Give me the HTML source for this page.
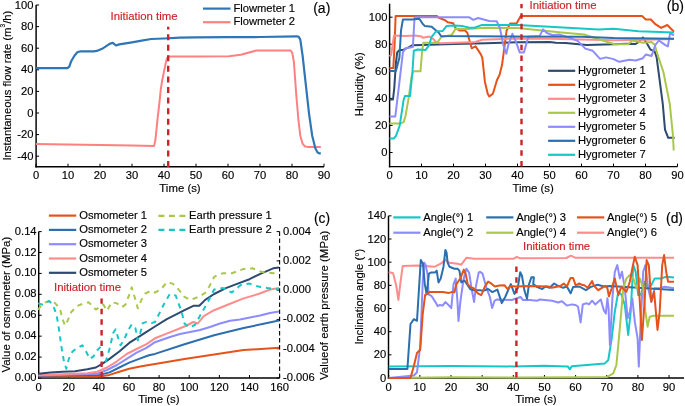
<!DOCTYPE html>
<html><head><meta charset="utf-8"><style>
html,body{margin:0;padding:0;background:#fff;}
svg{display:block;font-family:"Liberation Sans", sans-serif;will-change:transform;}
text{stroke-width:0.15px;}
</style></head><body>
<svg width="685" height="406" viewBox="0 0 685 406">
<line x1="36.10" y1="167.42" x2="36.10" y2="5.00" stroke="#000" stroke-width="1.45" />
<line x1="35.38" y1="166.70" x2="324.00" y2="166.70" stroke="#000" stroke-width="1.45" />
<line x1="36.00" y1="166.70" x2="36.00" y2="163.70" stroke="#000" stroke-width="1.0" />
<text x="36.00" y="179.00" text-anchor="middle" fill="#000" stroke="#000" font-size="11.2" >0</text>
<line x1="68.00" y1="166.70" x2="68.00" y2="163.70" stroke="#000" stroke-width="1.0" />
<text x="68.00" y="179.00" text-anchor="middle" fill="#000" stroke="#000" font-size="11.2" >10</text>
<line x1="100.00" y1="166.70" x2="100.00" y2="163.70" stroke="#000" stroke-width="1.0" />
<text x="100.00" y="179.00" text-anchor="middle" fill="#000" stroke="#000" font-size="11.2" >20</text>
<line x1="132.00" y1="166.70" x2="132.00" y2="163.70" stroke="#000" stroke-width="1.0" />
<text x="132.00" y="179.00" text-anchor="middle" fill="#000" stroke="#000" font-size="11.2" >30</text>
<line x1="164.00" y1="166.70" x2="164.00" y2="163.70" stroke="#000" stroke-width="1.0" />
<text x="164.00" y="179.00" text-anchor="middle" fill="#000" stroke="#000" font-size="11.2" >40</text>
<line x1="196.00" y1="166.70" x2="196.00" y2="163.70" stroke="#000" stroke-width="1.0" />
<text x="196.00" y="179.00" text-anchor="middle" fill="#000" stroke="#000" font-size="11.2" >50</text>
<line x1="228.00" y1="166.70" x2="228.00" y2="163.70" stroke="#000" stroke-width="1.0" />
<text x="228.00" y="179.00" text-anchor="middle" fill="#000" stroke="#000" font-size="11.2" >60</text>
<line x1="260.00" y1="166.70" x2="260.00" y2="163.70" stroke="#000" stroke-width="1.0" />
<text x="260.00" y="179.00" text-anchor="middle" fill="#000" stroke="#000" font-size="11.2" >70</text>
<line x1="292.00" y1="166.70" x2="292.00" y2="163.70" stroke="#000" stroke-width="1.0" />
<text x="292.00" y="179.00" text-anchor="middle" fill="#000" stroke="#000" font-size="11.2" >80</text>
<line x1="324.00" y1="166.70" x2="324.00" y2="163.70" stroke="#000" stroke-width="1.0" />
<text x="324.00" y="179.00" text-anchor="middle" fill="#000" stroke="#000" font-size="11.2" >90</text>
<line x1="36.10" y1="156.20" x2="39.10" y2="156.20" stroke="#000" stroke-width="1.0" />
<text x="33.50" y="159.70" text-anchor="end" fill="#000" stroke="#000" font-size="11.2" >-40</text>
<line x1="36.10" y1="134.60" x2="39.10" y2="134.60" stroke="#000" stroke-width="1.0" />
<text x="33.50" y="138.10" text-anchor="end" fill="#000" stroke="#000" font-size="11.2" >-20</text>
<line x1="36.10" y1="113.00" x2="39.10" y2="113.00" stroke="#000" stroke-width="1.0" />
<text x="33.50" y="116.50" text-anchor="end" fill="#000" stroke="#000" font-size="11.2" >0</text>
<line x1="36.10" y1="91.40" x2="39.10" y2="91.40" stroke="#000" stroke-width="1.0" />
<text x="33.50" y="94.90" text-anchor="end" fill="#000" stroke="#000" font-size="11.2" >20</text>
<line x1="36.10" y1="69.80" x2="39.10" y2="69.80" stroke="#000" stroke-width="1.0" />
<text x="33.50" y="73.30" text-anchor="end" fill="#000" stroke="#000" font-size="11.2" >40</text>
<line x1="36.10" y1="48.20" x2="39.10" y2="48.20" stroke="#000" stroke-width="1.0" />
<text x="33.50" y="51.70" text-anchor="end" fill="#000" stroke="#000" font-size="11.2" >60</text>
<line x1="36.10" y1="26.60" x2="39.10" y2="26.60" stroke="#000" stroke-width="1.0" />
<text x="33.50" y="30.10" text-anchor="end" fill="#000" stroke="#000" font-size="11.2" >80</text>
<line x1="36.10" y1="5.00" x2="39.10" y2="5.00" stroke="#000" stroke-width="1.0" />
<text x="33.50" y="8.50" text-anchor="end" fill="#000" stroke="#000" font-size="11.2" >100</text>
<polyline points="36.0,144.1 100.0,144.9 132.0,145.4 154.1,145.9 155.4,140.0 157.6,118.4 159.5,102.2 160.8,89.1 162.4,79.5 164.0,71.4 166.2,61.1 167.2,57.9 168.5,56.6 196.0,56.5 229.0,56.2 240.8,54.7 256.8,50.4 290.7,50.4 292.3,53.1 293.9,62.0 296.2,94.0 298.4,119.7 300.3,135.7 302.6,143.7 304.8,146.3 307.4,146.9 320.8,146.9" fill="none" stroke="#ff8080" stroke-width="2.0" stroke-linejoin="round" stroke-linecap="butt" />
<polyline points="36.0,68.2 67.4,68.2 69.3,66.6 71.2,61.2 74.4,55.8 77.6,52.0 80.8,51.4 93.6,51.4 96.8,50.9 103.2,48.2 109.6,43.9 112.8,42.8 116.0,45.5 119.2,44.4 125.6,43.3 132.0,42.3 141.6,40.6 151.2,39.0 164.0,38.5 180.0,37.7 196.0,37.4 228.0,37.2 260.0,37.0 296.8,36.3 298.7,36.9 300.3,39.6 302.6,55.7 305.8,84.4 309.0,113.3 312.2,135.7 315.4,148.5 317.6,152.5 319.2,153.3 320.8,153.3" fill="none" stroke="#2e76b6" stroke-width="2.2" stroke-linejoin="round" stroke-linecap="butt" />
<line x1="168.2" y1="167" x2="168.2" y2="26.8" stroke="#cc2229" stroke-width="2.4" stroke-dasharray="6 4.57"/>
<text x="110.50" y="19.70" text-anchor="start" fill="#cc2229" stroke="#cc2229" font-size="11.4" >Initiation time</text>
<line x1="203.00" y1="8.60" x2="230.50" y2="8.60" stroke="#2e76b6" stroke-width="2.2" />
<line x1="203.00" y1="22.20" x2="230.50" y2="22.20" stroke="#ff8080" stroke-width="2.2" />
<text x="233.40" y="11.80" text-anchor="start" fill="#000" stroke="#000" font-size="11.2" >Flowmeter 1</text>
<text x="233.40" y="25.40" text-anchor="start" fill="#000" stroke="#000" font-size="11.2" >Flowmeter 2</text>
<text x="313.20" y="12.70" text-anchor="start" fill="#000" stroke="#000" font-size="14" >(a)</text>
<text x="180.00" y="192.20" text-anchor="middle" fill="#000" stroke="#000" font-size="11.4" >Time (s)</text>
<text transform="translate(10.8,85.6) rotate(-90)" stroke="#000" text-anchor="middle" font-size="11.3">Instantaneous flow rate (m<tspan dy="-5.6" font-size="6.6">3</tspan><tspan dy="5.6">/h)</tspan></text>
<line x1="389.60" y1="167.32" x2="389.60" y2="3.67" stroke="#000" stroke-width="1.45" />
<line x1="388.88" y1="166.60" x2="677.50" y2="166.60" stroke="#000" stroke-width="1.45" />
<line x1="389.50" y1="166.60" x2="389.50" y2="163.60" stroke="#000" stroke-width="1.0" />
<text x="389.50" y="179.00" text-anchor="middle" fill="#000" stroke="#000" font-size="11.2" >0</text>
<line x1="421.50" y1="166.60" x2="421.50" y2="163.60" stroke="#000" stroke-width="1.0" />
<text x="421.50" y="179.00" text-anchor="middle" fill="#000" stroke="#000" font-size="11.2" >10</text>
<line x1="453.50" y1="166.60" x2="453.50" y2="163.60" stroke="#000" stroke-width="1.0" />
<text x="453.50" y="179.00" text-anchor="middle" fill="#000" stroke="#000" font-size="11.2" >20</text>
<line x1="485.50" y1="166.60" x2="485.50" y2="163.60" stroke="#000" stroke-width="1.0" />
<text x="485.50" y="179.00" text-anchor="middle" fill="#000" stroke="#000" font-size="11.2" >30</text>
<line x1="517.50" y1="166.60" x2="517.50" y2="163.60" stroke="#000" stroke-width="1.0" />
<text x="517.50" y="179.00" text-anchor="middle" fill="#000" stroke="#000" font-size="11.2" >40</text>
<line x1="549.50" y1="166.60" x2="549.50" y2="163.60" stroke="#000" stroke-width="1.0" />
<text x="549.50" y="179.00" text-anchor="middle" fill="#000" stroke="#000" font-size="11.2" >50</text>
<line x1="581.50" y1="166.60" x2="581.50" y2="163.60" stroke="#000" stroke-width="1.0" />
<text x="581.50" y="179.00" text-anchor="middle" fill="#000" stroke="#000" font-size="11.2" >60</text>
<line x1="613.50" y1="166.60" x2="613.50" y2="163.60" stroke="#000" stroke-width="1.0" />
<text x="613.50" y="179.00" text-anchor="middle" fill="#000" stroke="#000" font-size="11.2" >70</text>
<line x1="645.50" y1="166.60" x2="645.50" y2="163.60" stroke="#000" stroke-width="1.0" />
<text x="645.50" y="179.00" text-anchor="middle" fill="#000" stroke="#000" font-size="11.2" >80</text>
<line x1="677.50" y1="166.60" x2="677.50" y2="163.60" stroke="#000" stroke-width="1.0" />
<text x="677.50" y="179.00" text-anchor="middle" fill="#000" stroke="#000" font-size="11.2" >90</text>
<line x1="389.60" y1="152.50" x2="392.60" y2="152.50" stroke="#000" stroke-width="1.0" />
<text x="387.50" y="156.00" text-anchor="end" fill="#000" stroke="#000" font-size="11.2" >0</text>
<line x1="389.60" y1="125.44" x2="392.60" y2="125.44" stroke="#000" stroke-width="1.0" />
<text x="387.50" y="128.94" text-anchor="end" fill="#000" stroke="#000" font-size="11.2" >20</text>
<line x1="389.60" y1="98.38" x2="392.60" y2="98.38" stroke="#000" stroke-width="1.0" />
<text x="387.50" y="101.88" text-anchor="end" fill="#000" stroke="#000" font-size="11.2" >40</text>
<line x1="389.60" y1="71.32" x2="392.60" y2="71.32" stroke="#000" stroke-width="1.0" />
<text x="387.50" y="74.82" text-anchor="end" fill="#000" stroke="#000" font-size="11.2" >60</text>
<line x1="389.60" y1="44.26" x2="392.60" y2="44.26" stroke="#000" stroke-width="1.0" />
<text x="387.50" y="47.76" text-anchor="end" fill="#000" stroke="#000" font-size="11.2" >80</text>
<line x1="389.60" y1="17.20" x2="392.60" y2="17.20" stroke="#000" stroke-width="1.0" />
<text x="387.50" y="20.70" text-anchor="end" fill="#000" stroke="#000" font-size="11.2" >100</text>
<polyline points="389.5,99.5 393.0,99.5 394.3,87.6 395.9,63.2 397.2,52.4 399.1,50.3 403.6,49.7 408.1,47.6 412.5,45.2 421.5,44.9 437.5,44.5 453.5,43.9 485.5,43.2 517.5,42.2 549.5,42.0 555.9,42.8 565.5,42.9 586.9,44.9 613.5,44.3 626.3,43.7 635.6,44.0 639.1,41.6 642.9,37.5 647.4,44.3 650.3,49.3 654.8,51.7 656.7,57.8 662.8,104.1 665.0,129.6 668.2,137.8 674.6,137.8" fill="none" stroke="#2e4a6e" stroke-width="2.0" stroke-linejoin="round" stroke-linecap="butt" />
<polyline points="389.5,68.1 393.3,68.1 394.6,44.3 395.6,16.1 436.9,16.1 439.1,17.9 442.0,19.0 445.5,20.4 447.7,22.2 453.2,23.3 455.7,28.3 459.6,30.5 465.0,30.5 467.3,32.8 469.5,40.5 471.7,48.3 474.0,47.2 475.6,46.4 480.7,54.1 482.3,57.7 484.9,81.7 487.7,93.8 489.3,96.4 492.9,93.8 497.0,80.0 499.6,74.8 502.1,64.6 504.4,47.2 506.6,30.7 510.1,23.6 516.5,23.6 520.7,16.1 642.0,16.1 645.8,19.5 650.9,19.5 655.4,24.2 661.2,27.9 667.3,25.0 674.0,31.7" fill="none" stroke="#e5531a" stroke-width="2.0" stroke-linejoin="round" stroke-linecap="butt" />
<polyline points="389.5,56.4 391.1,55.1 394.0,35.6 405.5,36.1 415.1,35.5 421.8,36.5 422.8,37.8 429.2,36.5 433.0,38.8 436.2,42.2 440.1,43.3 470.5,42.2 474.6,42.2 482.0,39.7 517.5,38.4 549.5,38.8 613.5,40.2 645.5,39.7 674.0,39.0" fill="none" stroke="#ff8c8c" stroke-width="2.0" stroke-linejoin="round" stroke-linecap="butt" />
<polyline points="389.5,123.4 400.7,123.4 403.6,122.1 405.5,116.0 408.1,101.1 409.0,95.7 411.6,76.7 412.9,72.0 414.1,71.3 420.5,71.3 422.1,51.0 423.4,42.8 437.2,42.8 441.0,37.2 451.6,35.1 455.4,29.0 466.9,29.1 485.5,27.8 517.5,28.0 561.7,32.4 584.1,34.5 595.6,38.2 610.0,42.8 614.8,44.3 628.2,44.3 632.4,40.5 642.9,42.8 651.6,42.1 654.8,44.9 657.0,52.8 663.4,72.0 669.8,104.1 673.0,136.0 673.7,150.5" fill="none" stroke="#a9c84a" stroke-width="2.0" stroke-linejoin="round" stroke-linecap="butt" />
<polyline points="389.5,116.5 395.3,116.5 399.1,84.8 402.9,52.4 405.5,48.3 412.9,47.0 414.5,17.9 415.1,17.2 468.9,17.2 473.3,19.9 478.1,18.0 489.3,21.0 496.7,21.3 499.9,28.0 503.1,44.3 506.3,53.7 508.5,44.3 512.4,33.8 515.9,41.6 519.7,52.4 523.9,52.4 528.4,36.8 539.6,36.1 543.1,29.4 546.9,33.0 552.7,35.3 558.8,34.5 569.0,37.5 578.0,41.1 585.3,48.6 592.7,50.8 600.1,58.9 606.1,57.4 613.5,59.1 619.3,61.8 629.5,59.7 635.6,60.5 642.9,58.2 645.8,54.5 651.6,56.0 655.4,44.9 658.9,40.5 665.0,44.9 667.9,46.4 670.1,33.2 674.0,35.3" fill="none" stroke="#8c8cff" stroke-width="2.0" stroke-linejoin="round" stroke-linecap="butt" />
<polyline points="389.5,71.0 395.9,71.0 399.4,57.8 401.0,30.7 402.9,19.5 412.2,19.5 419.3,18.8 422.8,24.0 425.0,26.1 431.7,26.7 434.9,29.4 438.8,32.8 441.0,36.0 581.5,36.8 613.5,38.0 674.0,38.8" fill="none" stroke="#2a6fb0" stroke-width="2.0" stroke-linejoin="round" stroke-linecap="butt" />
<polyline points="389.5,138.6 393.7,138.6 395.9,136.0 399.7,125.6 403.6,100.0 404.9,96.1 410.0,96.1 412.5,71.3 413.8,50.8 417.7,49.5 425.7,49.9 429.2,45.1 431.4,37.2 435.9,31.5 442.6,31.1 446.5,26.1 453.8,25.5 462.8,26.1 469.5,27.8 474.6,27.8 482.0,24.9 517.5,24.9 549.5,26.7 598.5,29.4 613.5,28.7 638.5,31.3 674.0,32.4" fill="none" stroke="#17c7c7" stroke-width="2.0" stroke-linejoin="round" stroke-linecap="butt" />
<line x1="521.5" y1="166.4" x2="521.5" y2="4" stroke="#cc2229" stroke-width="2.4" stroke-dasharray="5.5 5.05"/>
<text x="529.50" y="8.50" text-anchor="start" fill="#cc2229" stroke="#cc2229" font-size="11.4" >Initiation time</text>
<rect x="545" y="63" width="103" height="99" fill="#fff"/>
<line x1="548.10" y1="70.80" x2="575.20" y2="70.80" stroke="#2e4a6e" stroke-width="2.2" />
<text x="577.90" y="73.90" text-anchor="start" fill="#000" stroke="#000" font-size="11.2" >Hygrometer 1</text>
<line x1="548.10" y1="84.80" x2="575.20" y2="84.80" stroke="#e5531a" stroke-width="2.2" />
<text x="577.90" y="87.90" text-anchor="start" fill="#000" stroke="#000" font-size="11.2" >Hygrometer 2</text>
<line x1="548.10" y1="98.80" x2="575.20" y2="98.80" stroke="#ff8c8c" stroke-width="2.2" />
<text x="577.90" y="101.90" text-anchor="start" fill="#000" stroke="#000" font-size="11.2" >Hygrometer 3</text>
<line x1="548.10" y1="112.80" x2="575.20" y2="112.80" stroke="#a9c84a" stroke-width="2.2" />
<text x="577.90" y="115.90" text-anchor="start" fill="#000" stroke="#000" font-size="11.2" >Hygrometer 4</text>
<line x1="548.10" y1="126.80" x2="575.20" y2="126.80" stroke="#8c8cff" stroke-width="2.2" />
<text x="577.90" y="129.90" text-anchor="start" fill="#000" stroke="#000" font-size="11.2" >Hygrometer 5</text>
<line x1="548.10" y1="140.80" x2="575.20" y2="140.80" stroke="#2a6fb0" stroke-width="2.2" />
<text x="577.90" y="143.90" text-anchor="start" fill="#000" stroke="#000" font-size="11.2" >Hygrometer 6</text>
<line x1="548.10" y1="154.80" x2="575.20" y2="154.80" stroke="#17c7c7" stroke-width="2.2" />
<text x="577.90" y="157.90" text-anchor="start" fill="#000" stroke="#000" font-size="11.2" >Hygrometer 7</text>
<text x="666.80" y="11.10" text-anchor="start" fill="#000" stroke="#000" font-size="14" >(b)</text>
<text x="533.10" y="191.70" text-anchor="middle" fill="#000" stroke="#000" font-size="11.4" >Time (s)</text>
<text transform="translate(363.4,84.3) rotate(-90)" stroke="#000" text-anchor="middle" font-size="11.2">Humidity (%)</text>
<line x1="38.70" y1="378.73" x2="38.70" y2="231.60" stroke="#000" stroke-width="1.45" />
<line x1="37.98" y1="378.00" x2="279.61" y2="378.00" stroke="#000" stroke-width="1.45" />
<line x1="38.60" y1="378.00" x2="38.60" y2="375.00" stroke="#000" stroke-width="1.0" />
<text x="38.60" y="390.70" text-anchor="middle" fill="#000" stroke="#000" font-size="11.2" >0</text>
<line x1="68.73" y1="378.00" x2="68.73" y2="375.00" stroke="#000" stroke-width="1.0" />
<text x="68.73" y="390.70" text-anchor="middle" fill="#000" stroke="#000" font-size="11.2" >20</text>
<line x1="98.85" y1="378.00" x2="98.85" y2="375.00" stroke="#000" stroke-width="1.0" />
<text x="98.85" y="390.70" text-anchor="middle" fill="#000" stroke="#000" font-size="11.2" >40</text>
<line x1="128.98" y1="378.00" x2="128.98" y2="375.00" stroke="#000" stroke-width="1.0" />
<text x="128.98" y="390.70" text-anchor="middle" fill="#000" stroke="#000" font-size="11.2" >60</text>
<line x1="159.10" y1="378.00" x2="159.10" y2="375.00" stroke="#000" stroke-width="1.0" />
<text x="159.10" y="390.70" text-anchor="middle" fill="#000" stroke="#000" font-size="11.2" >80</text>
<line x1="189.23" y1="378.00" x2="189.23" y2="375.00" stroke="#000" stroke-width="1.0" />
<text x="189.23" y="390.70" text-anchor="middle" fill="#000" stroke="#000" font-size="11.2" >100</text>
<line x1="219.36" y1="378.00" x2="219.36" y2="375.00" stroke="#000" stroke-width="1.0" />
<text x="219.36" y="390.70" text-anchor="middle" fill="#000" stroke="#000" font-size="11.2" >120</text>
<line x1="249.48" y1="378.00" x2="249.48" y2="375.00" stroke="#000" stroke-width="1.0" />
<text x="249.48" y="390.70" text-anchor="middle" fill="#000" stroke="#000" font-size="11.2" >140</text>
<line x1="279.61" y1="378.00" x2="279.61" y2="375.00" stroke="#000" stroke-width="1.0" />
<text x="279.61" y="390.70" text-anchor="middle" fill="#000" stroke="#000" font-size="11.2" >160</text>
<line x1="38.70" y1="378.00" x2="41.70" y2="378.00" stroke="#000" stroke-width="1.0" />
<text x="36.60" y="381.00" text-anchor="end" fill="#000" stroke="#000" font-size="11.2" >0.00</text>
<line x1="38.70" y1="357.09" x2="41.70" y2="357.09" stroke="#000" stroke-width="1.0" />
<text x="36.60" y="360.09" text-anchor="end" fill="#000" stroke="#000" font-size="11.2" >0.02</text>
<line x1="38.70" y1="336.17" x2="41.70" y2="336.17" stroke="#000" stroke-width="1.0" />
<text x="36.60" y="339.17" text-anchor="end" fill="#000" stroke="#000" font-size="11.2" >0.04</text>
<line x1="38.70" y1="315.26" x2="41.70" y2="315.26" stroke="#000" stroke-width="1.0" />
<text x="36.60" y="318.26" text-anchor="end" fill="#000" stroke="#000" font-size="11.2" >0.06</text>
<line x1="38.70" y1="294.34" x2="41.70" y2="294.34" stroke="#000" stroke-width="1.0" />
<text x="36.60" y="297.34" text-anchor="end" fill="#000" stroke="#000" font-size="11.2" >0.08</text>
<line x1="38.70" y1="273.43" x2="41.70" y2="273.43" stroke="#000" stroke-width="1.0" />
<text x="36.60" y="276.43" text-anchor="end" fill="#000" stroke="#000" font-size="11.2" >0.10</text>
<line x1="38.70" y1="252.52" x2="41.70" y2="252.52" stroke="#000" stroke-width="1.0" />
<text x="36.60" y="255.52" text-anchor="end" fill="#000" stroke="#000" font-size="11.2" >0.12</text>
<line x1="38.70" y1="231.60" x2="41.70" y2="231.60" stroke="#000" stroke-width="1.0" />
<text x="36.60" y="234.60" text-anchor="end" fill="#000" stroke="#000" font-size="11.2" >0.14</text>
<line x1="279.61" y1="378" x2="279.61" y2="231.6" stroke="#000" stroke-width="1.1" stroke-dasharray="4.5 2.6"/>
<line x1="279.61" y1="378.00" x2="276.61" y2="378.00" stroke="#000" stroke-width="1.0" />
<text x="283.00" y="381.00" text-anchor="start" fill="#000" stroke="#000" font-size="11.2" >-0.006</text>
<line x1="279.61" y1="348.72" x2="276.61" y2="348.72" stroke="#000" stroke-width="1.0" />
<text x="283.00" y="351.72" text-anchor="start" fill="#000" stroke="#000" font-size="11.2" >-0.004</text>
<line x1="279.61" y1="319.44" x2="276.61" y2="319.44" stroke="#000" stroke-width="1.0" />
<text x="283.00" y="322.44" text-anchor="start" fill="#000" stroke="#000" font-size="11.2" >-0.002</text>
<line x1="279.61" y1="290.16" x2="276.61" y2="290.16" stroke="#000" stroke-width="1.0" />
<text x="283.00" y="293.16" text-anchor="start" fill="#000" stroke="#000" font-size="11.2" >0.000</text>
<line x1="279.61" y1="260.88" x2="276.61" y2="260.88" stroke="#000" stroke-width="1.0" />
<text x="283.00" y="263.88" text-anchor="start" fill="#000" stroke="#000" font-size="11.2" >0.002</text>
<line x1="279.61" y1="231.60" x2="276.61" y2="231.60" stroke="#000" stroke-width="1.0" />
<text x="283.00" y="234.60" text-anchor="start" fill="#000" stroke="#000" font-size="11.2" >0.004</text>
<polyline points="38.6,376.6 99.6,376.6 109.5,374.9 119.3,371.7 129.2,368.7 141.5,366.3 155.0,364.0 184.5,359.0 214.1,354.5 243.6,350.1 279.0,347.7" fill="none" stroke="#e5531a" stroke-width="2.0" stroke-linejoin="round" stroke-linecap="butt" />
<polyline points="38.6,375.6 99.6,374.9 109.5,372.4 119.3,367.5 129.2,362.6 139.1,358.9 148.9,355.2 155.0,353.9 184.5,344.2 214.1,335.3 243.6,328.0 279.0,320.6" fill="none" stroke="#2a6fb0" stroke-width="2.0" stroke-linejoin="round" stroke-linecap="butt" />
<polyline points="38.6,375.4 97.2,373.7 107.0,370.0 116.9,365.0 126.7,358.9 136.6,352.7 146.5,347.8 155.0,342.2 160.0,340.5 170.0,337.0 180.0,334.0 190.0,332.0 200.0,330.0 210.0,327.0 220.0,323.5 230.0,320.8 240.0,319.5 250.0,317.5 260.0,315.5 270.0,313.0 279.0,311.5" fill="none" stroke="#8c8cff" stroke-width="2.0" stroke-linejoin="round" stroke-linecap="butt" />
<polyline points="38.6,374.9 62.6,374.2 87.3,373.2 97.2,371.7 107.0,367.5 116.9,361.3 126.7,354.0 136.6,349.0 146.5,344.1 155.0,338.3 169.8,332.4 184.5,326.5 193.4,322.0 197.8,323.5 203.7,316.1 214.1,310.2 228.9,304.3 243.6,298.4 258.4,294.0 270.2,289.5 279.0,288.1" fill="none" stroke="#ff8c8c" stroke-width="2.0" stroke-linejoin="round" stroke-linecap="butt" />
<polyline points="38.6,373.7 50.3,372.4 62.6,371.7 75.0,371.2 87.3,369.2 95.9,367.5 102.1,363.8 109.5,358.9 119.3,351.5 129.2,342.9 139.1,336.7 146.5,331.8 155.0,326.5 166.8,319.1 175.7,314.7 184.5,310.2 193.4,305.8 199.3,305.8 205.2,299.9 214.1,294.0 225.9,288.1 237.7,283.6 249.5,279.2 261.4,273.3 273.2,268.3 279.0,267.4" fill="none" stroke="#2e4a6e" stroke-width="2.0" stroke-linejoin="round" stroke-linecap="butt" />
<polyline points="38.0,309.6 42.9,303.4 49.1,301.0 52.8,301.0 56.5,304.6 60.2,309.6 62.6,319.4 65.1,325.6 67.6,320.7 71.3,312.0 77.4,305.9 83.6,303.4 88.5,302.2 92.2,305.9 95.9,309.6 99.6,307.1 103.3,304.6 107.0,310.8 111.9,302.2 116.9,303.4 121.8,307.1 125.5,304.6 129.2,294.8 131.7,287.4 135.4,299.7 137.8,308.3 141.5,299.7 145.2,293.6 150.2,291.1 155.0,292.5 160.9,289.5 166.8,282.2 172.7,283.6 178.6,289.5 184.5,296.9 190.5,300.0 199.3,296.5 205.0,293.0 209.3,286.5 214.0,277.2 217.5,274.9 223.0,273.3 231.8,273.3 243.6,268.9 252.5,268.3 261.4,271.8 273.2,273.3 279.0,271.2" fill="none" stroke="#a9c84a" stroke-width="2.0" stroke-linejoin="round" stroke-linecap="butt" stroke-dasharray="5.2 4.8"/>
<polyline points="38.0,303.4 42.9,304.6 49.1,301.0 52.8,304.6 56.5,314.5 59.0,329.3 61.4,346.6 63.9,361.3 66.3,368.7 68.8,358.9 72.5,351.5 77.4,347.8 82.4,345.3 86.1,351.5 89.8,358.9 93.5,356.4 97.2,350.2 100.9,346.6 103.3,356.4 105.8,361.3 109.5,349.0 113.2,333.0 115.6,329.3 118.1,337.9 120.6,345.3 124.3,339.2 128.0,330.5 131.7,324.4 135.4,328.1 137.8,340.4 140.3,333.0 142.8,323.1 146.5,321.9 151.4,323.1 155.0,322.0 163.9,304.3 169.8,294.0 175.7,295.5 181.6,311.7 184.5,323.5 189.0,327.4 194.9,325.0 202.3,311.7 208.2,301.4 214.1,289.5 223.0,288.1 231.8,292.5 240.7,285.1 249.5,283.6 258.4,286.6 267.3,288.1 279.0,289.5" fill="none" stroke="#17c7c7" stroke-width="2.0" stroke-linejoin="round" stroke-linecap="butt" stroke-dasharray="5.2 4.8"/>
<line x1="101.6" y1="377.6" x2="101.6" y2="298.5" stroke="#cc2229" stroke-width="2.4" stroke-dasharray="5.5 5.05"/>
<text x="54.00" y="291.10" text-anchor="start" fill="#cc2229" stroke="#cc2229" font-size="11.4" >Initiation time</text>
<line x1="48.90" y1="215.60" x2="76.20" y2="215.60" stroke="#e5531a" stroke-width="2.2" />
<text x="79.20" y="218.80" text-anchor="start" fill="#000" stroke="#000" font-size="11.2" >Osmometer 1</text>
<line x1="48.90" y1="229.90" x2="76.20" y2="229.90" stroke="#2a6fb0" stroke-width="2.2" />
<text x="79.20" y="233.10" text-anchor="start" fill="#000" stroke="#000" font-size="11.2" >Osmometer 2</text>
<line x1="48.90" y1="244.20" x2="76.20" y2="244.20" stroke="#8c8cff" stroke-width="2.2" />
<text x="79.20" y="247.40" text-anchor="start" fill="#000" stroke="#000" font-size="11.2" >Osmometer 3</text>
<line x1="48.90" y1="258.50" x2="76.20" y2="258.50" stroke="#ff8c8c" stroke-width="2.2" />
<text x="79.20" y="261.70" text-anchor="start" fill="#000" stroke="#000" font-size="11.2" >Osmometer 4</text>
<line x1="48.90" y1="272.80" x2="76.20" y2="272.80" stroke="#2e4a6e" stroke-width="2.2" />
<text x="79.20" y="276.00" text-anchor="start" fill="#000" stroke="#000" font-size="11.2" >Osmometer 5</text>
<line x1="158.40" y1="215.80" x2="186.00" y2="215.80" stroke="#a9c84a" stroke-width="2.2" stroke-dasharray="6 4.5"/>
<text x="189.00" y="219.00" text-anchor="start" fill="#000" stroke="#000" font-size="11.2" >Earth pressure 1</text>
<line x1="158.40" y1="229.80" x2="186.00" y2="229.80" stroke="#17c7c7" stroke-width="2.2" stroke-dasharray="6 4.5"/>
<text x="189.00" y="233.00" text-anchor="start" fill="#000" stroke="#000" font-size="11.2" >Earth pressure 2</text>
<text x="313.90" y="222.50" text-anchor="start" fill="#000" stroke="#000" font-size="13.8" >(c)</text>
<text x="158.90" y="403.40" text-anchor="middle" fill="#000" stroke="#000" font-size="11.4" >Time (s)</text>
<text transform="translate(9.5,304.7) rotate(-90)" stroke="#000" text-anchor="middle" font-size="11.45">Value of osmometer (MPa)</text>
<text transform="translate(328.0,305.4) rotate(-90)" stroke="#000" text-anchor="middle" font-size="11.45">Valueof earth pressure (MPa)</text>
<line x1="388.50" y1="378.73" x2="388.50" y2="215.84" stroke="#000" stroke-width="1.45" />
<line x1="387.77" y1="378.00" x2="684.00" y2="378.00" stroke="#000" stroke-width="1.45" />
<line x1="388.70" y1="378.00" x2="388.70" y2="375.00" stroke="#000" stroke-width="1.0" />
<text x="388.70" y="390.70" text-anchor="middle" fill="#000" stroke="#000" font-size="11.2" >0</text>
<line x1="419.85" y1="378.00" x2="419.85" y2="375.00" stroke="#000" stroke-width="1.0" />
<text x="419.85" y="390.70" text-anchor="middle" fill="#000" stroke="#000" font-size="11.2" >10</text>
<line x1="451.00" y1="378.00" x2="451.00" y2="375.00" stroke="#000" stroke-width="1.0" />
<text x="451.00" y="390.70" text-anchor="middle" fill="#000" stroke="#000" font-size="11.2" >20</text>
<line x1="482.15" y1="378.00" x2="482.15" y2="375.00" stroke="#000" stroke-width="1.0" />
<text x="482.15" y="390.70" text-anchor="middle" fill="#000" stroke="#000" font-size="11.2" >30</text>
<line x1="513.30" y1="378.00" x2="513.30" y2="375.00" stroke="#000" stroke-width="1.0" />
<text x="513.30" y="390.70" text-anchor="middle" fill="#000" stroke="#000" font-size="11.2" >40</text>
<line x1="544.45" y1="378.00" x2="544.45" y2="375.00" stroke="#000" stroke-width="1.0" />
<text x="544.45" y="390.70" text-anchor="middle" fill="#000" stroke="#000" font-size="11.2" >50</text>
<line x1="575.60" y1="378.00" x2="575.60" y2="375.00" stroke="#000" stroke-width="1.0" />
<text x="575.60" y="390.70" text-anchor="middle" fill="#000" stroke="#000" font-size="11.2" >60</text>
<line x1="606.75" y1="378.00" x2="606.75" y2="375.00" stroke="#000" stroke-width="1.0" />
<text x="606.75" y="390.70" text-anchor="middle" fill="#000" stroke="#000" font-size="11.2" >70</text>
<line x1="637.90" y1="378.00" x2="637.90" y2="375.00" stroke="#000" stroke-width="1.0" />
<text x="637.90" y="390.70" text-anchor="middle" fill="#000" stroke="#000" font-size="11.2" >80</text>
<line x1="669.05" y1="378.00" x2="669.05" y2="375.00" stroke="#000" stroke-width="1.0" />
<text x="669.05" y="390.70" text-anchor="middle" fill="#000" stroke="#000" font-size="11.2" >90</text>
<line x1="388.50" y1="378.00" x2="391.50" y2="378.00" stroke="#000" stroke-width="1.0" />
<text x="386.20" y="381.50" text-anchor="end" fill="#000" stroke="#000" font-size="11.2" >0</text>
<line x1="388.50" y1="354.83" x2="391.50" y2="354.83" stroke="#000" stroke-width="1.0" />
<text x="386.20" y="358.33" text-anchor="end" fill="#000" stroke="#000" font-size="11.2" >20</text>
<line x1="388.50" y1="331.67" x2="391.50" y2="331.67" stroke="#000" stroke-width="1.0" />
<text x="386.20" y="335.17" text-anchor="end" fill="#000" stroke="#000" font-size="11.2" >40</text>
<line x1="388.50" y1="308.50" x2="391.50" y2="308.50" stroke="#000" stroke-width="1.0" />
<text x="386.20" y="312.00" text-anchor="end" fill="#000" stroke="#000" font-size="11.2" >60</text>
<line x1="388.50" y1="285.34" x2="391.50" y2="285.34" stroke="#000" stroke-width="1.0" />
<text x="386.20" y="288.84" text-anchor="end" fill="#000" stroke="#000" font-size="11.2" >80</text>
<line x1="388.50" y1="262.17" x2="391.50" y2="262.17" stroke="#000" stroke-width="1.0" />
<text x="386.20" y="265.67" text-anchor="end" fill="#000" stroke="#000" font-size="11.2" >100</text>
<line x1="388.50" y1="239.00" x2="391.50" y2="239.00" stroke="#000" stroke-width="1.0" />
<text x="386.20" y="242.50" text-anchor="end" fill="#000" stroke="#000" font-size="11.2" >120</text>
<line x1="388.50" y1="215.84" x2="391.50" y2="215.84" stroke="#000" stroke-width="1.0" />
<text x="386.20" y="219.34" text-anchor="end" fill="#000" stroke="#000" font-size="11.2" >140</text>
<polyline points="388.7,272.0 393.1,273.3 396.2,285.5 398.4,299.9 400.5,282.2 402.7,266.1 417.0,265.5 434.8,266.7 440.7,263.7 445.4,259.9 449.4,262.7 457.5,263.7 461.3,264.7 466.3,257.8 474.1,258.8 513.3,258.8 516.7,256.8 519.5,258.2 566.3,258.0 570.9,255.7 575.6,257.8 674.0,257.8" fill="none" stroke="#ff8c8c" stroke-width="2.0" stroke-linejoin="round" stroke-linecap="butt" />
<polyline points="388.7,366.4 451.0,366.1 513.3,366.4 544.5,365.8 567.8,366.4 569.7,369.3 571.9,366.2 604.9,363.4 608.3,360.0 611.7,338.3 614.8,311.7 618.3,291.7 621.4,294.6 624.8,305.0 628.2,335.0 630.7,311.7 633.2,265.1 635.7,271.8 638.2,295.1 641.0,294.6 644.8,281.7 647.9,287.7 651.3,285.1 654.7,278.4 661.3,278.4 666.2,276.8 674.0,277.6" fill="none" stroke="#17c7c7" stroke-width="2.0" stroke-linejoin="round" stroke-linecap="butt" />
<polyline points="388.7,378.0 413.9,375.5 417.0,372.2 420.2,346.5 422.7,282.2 424.2,262.7 425.5,264.5 427.6,274.6 428.6,294.3 431.7,296.2 435.4,302.1 437.6,306.1 439.5,305.0 442.6,305.5 445.4,302.1 448.5,305.0 451.3,308.2 453.5,284.4 455.7,278.5 457.5,302.1 458.5,320.9 460.3,302.1 463.5,279.5 466.3,268.7 469.1,272.6 471.9,290.3 474.1,302.1 475.9,286.4 478.7,272.6 480.0,271.7 482.5,273.6 486.2,287.1 489.9,297.0 492.1,308.0 494.6,300.7 497.1,299.4 511.7,300.0 520.5,297.0 523.0,300.0 530.1,300.0 537.3,300.7 539.8,299.5 552.2,300.7 558.2,302.5 561.9,301.3 566.9,305.6 571.9,304.4 575.6,305.0 578.1,306.8 579.3,314.2 580.6,322.4 582.8,304.4 586.5,303.2 589.0,304.4 592.1,300.7 595.2,304.4 600.8,299.5 603.9,310.5 605.8,313.6 607.4,298.3 608.6,308.5 609.9,345.0 612.4,298.4 614.8,271.8 617.3,265.1 619.8,278.4 622.0,271.8 624.8,288.3 627.6,318.3 629.8,311.7 632.3,298.4 634.8,321.7 637.6,338.3 638.8,366.6 640.4,328.4 643.2,271.8 645.4,265.1 648.2,288.3 651.3,301.8 654.7,288.3 659.7,288.3 664.7,286.7 674.0,288.3" fill="none" stroke="#8c8cff" stroke-width="2.0" stroke-linejoin="round" stroke-linecap="butt" />
<polyline points="388.7,369.0 407.4,369.0 410.5,324.0 413.9,319.2 417.0,320.8 420.8,259.9 423.0,263.7 424.8,284.4 426.7,294.3 428.9,273.6 430.8,272.6 434.8,272.6 436.7,270.6 438.5,282.4 440.7,278.5 443.5,266.7 445.4,249.9 446.6,252.9 447.6,262.7 449.4,266.7 454.4,268.7 457.5,268.7 459.4,270.6 461.3,282.4 464.4,280.5 467.2,284.4 470.3,289.3 474.1,290.3 480.0,290.2 483.4,290.8 488.1,289.0 492.4,292.1 497.4,289.6 501.8,303.1 505.2,297.0 510.8,284.1 514.5,293.9 517.7,288.3 520.2,272.2 522.0,276.0 524.5,290.8 527.0,298.8 528.9,284.6 531.4,277.2 533.9,277.2 533.2,284.1 537.3,287.1 542.3,289.0 545.4,286.5 549.7,287.8 554.1,283.5 557.2,285.3 563.1,287.8 566.9,286.5 570.6,293.3 573.1,287.1 579.3,286.5 585.9,290.2 590.2,287.1 597.7,284.8 603.9,286.5 609.9,285.9 637.9,287.7 674.0,290.1" fill="none" stroke="#2a6fb0" stroke-width="2.0" stroke-linejoin="round" stroke-linecap="butt" />
<polyline points="410.5,377.7 451.0,377.3 513.3,377.5 575.6,377.3 606.8,377.1 613.3,373.4 616.4,365.0 619.8,328.4 623.3,288.3 626.4,278.4 629.8,275.0 633.2,278.4 636.7,288.3 639.8,278.4 643.2,288.3 645.4,311.7 647.6,326.7 649.7,316.7 653.2,315.8 674.0,315.8" fill="none" stroke="#a9c84a" stroke-width="2.0" stroke-linejoin="round" stroke-linecap="butt" />
<polyline points="388.7,378.0 410.5,378.0 413.9,365.8 417.0,353.0 420.2,349.7 422.7,314.4 425.1,295.1 429.8,291.9 442.6,291.9 449.1,292.9 452.2,291.9 454.4,292.3 456.3,284.4 458.2,281.5 460.3,278.4 463.8,269.6 465.6,273.6 467.8,284.4 470.9,287.4 473.7,288.3 477.8,293.3 481.2,295.1 482.5,292.3 484.6,287.1 488.1,281.6 491.2,283.4 494.9,286.5 499.3,285.6 504.6,285.3 507.4,289.0 510.5,286.1 515.5,286.5 530.1,285.9 548.5,286.5 551.6,287.8 560.6,285.9 563.8,283.5 566.9,286.5 570.6,277.9 573.1,277.9 575.6,285.3 579.3,283.5 581.8,284.8 584.3,285.3 587.7,287.8 592.1,281.1 594.0,285.9 598.3,290.2 605.2,285.9 607.4,288.3 608.9,296.3 611.7,288.3 614.8,278.4 618.3,295.1 621.4,286.7 626.4,291.7 629.8,281.7 632.3,268.4 634.8,256.7 637.6,265.1 639.8,301.8 641.9,340.0 644.8,298.4 646.6,260.1 648.8,265.1 651.3,301.8 654.1,291.7 657.5,330.0 659.7,311.7 662.2,265.1 664.1,255.1 666.2,271.8 668.1,281.7 674.0,281.7" fill="none" stroke="#e5531a" stroke-width="2.0" stroke-linejoin="round" stroke-linecap="butt" />
<line x1="516.4" y1="377.6" x2="516.4" y2="264" stroke="#cc2229" stroke-width="2.4" stroke-dasharray="5.5 5.05"/>
<text x="523.10" y="250.30" text-anchor="start" fill="#cc2229" stroke="#cc2229" font-size="11.4" >Initiation time</text>
<line x1="393.30" y1="217.40" x2="420.50" y2="217.40" stroke="#17c7c7" stroke-width="2.2" />
<text x="423.30" y="220.60" text-anchor="start" fill="#000" stroke="#000" font-size="11.2" >Angle(°) 1</text>
<line x1="393.30" y1="232.70" x2="420.50" y2="232.70" stroke="#8c8cff" stroke-width="2.2" />
<text x="423.30" y="235.90" text-anchor="start" fill="#000" stroke="#000" font-size="11.2" >Angle(°) 2</text>
<line x1="486.20" y1="217.40" x2="513.40" y2="217.40" stroke="#2a6fb0" stroke-width="2.2" />
<text x="516.20" y="220.60" text-anchor="start" fill="#000" stroke="#000" font-size="11.2" >Angle(°) 3</text>
<line x1="486.20" y1="232.70" x2="513.40" y2="232.70" stroke="#a9c84a" stroke-width="2.2" />
<text x="516.20" y="235.90" text-anchor="start" fill="#000" stroke="#000" font-size="11.2" >Angle(°) 4</text>
<line x1="577.00" y1="217.40" x2="604.20" y2="217.40" stroke="#e5531a" stroke-width="2.2" />
<text x="607.00" y="220.60" text-anchor="start" fill="#000" stroke="#000" font-size="11.2" >Angle(°) 5</text>
<line x1="577.00" y1="232.70" x2="604.20" y2="232.70" stroke="#ff8c8c" stroke-width="2.2" />
<text x="607.00" y="235.90" text-anchor="start" fill="#000" stroke="#000" font-size="11.2" >Angle(°) 6</text>
<text x="666.10" y="222.70" text-anchor="start" fill="#000" stroke="#000" font-size="13.8" >(d)</text>
<text x="536.00" y="403.40" text-anchor="middle" fill="#000" stroke="#000" font-size="11.4" >Time (s)</text>
<text transform="translate(362.8,296.6) rotate(-90)" stroke="#000" text-anchor="middle" font-size="11.2">Inclination angle (°)</text>
</svg></body></html>
